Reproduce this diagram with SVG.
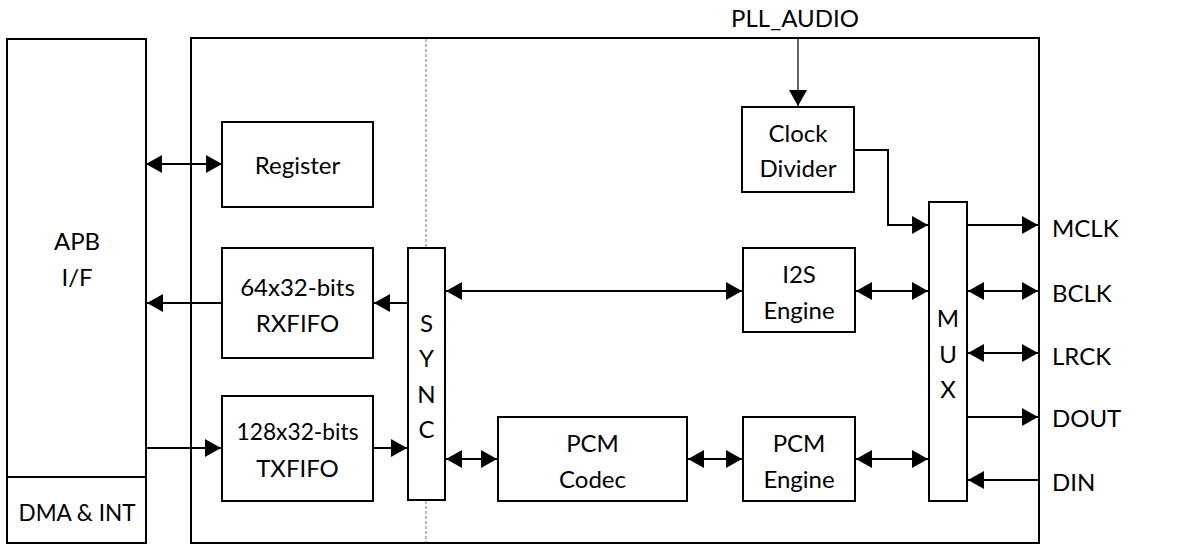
<svg xmlns="http://www.w3.org/2000/svg" width="1182" height="544" viewBox="0 0 1182 544">
<style>
.box{fill:#fff;stroke:#000;stroke-width:2}
.t{font-family:Lato,"Liberation Sans",Arial,sans-serif;font-size:24px;fill:#000;text-anchor:middle}
.ts{font-family:Lato,"Liberation Sans",Arial,sans-serif;font-size:24px;fill:#000}
.c{fill:none;stroke:#000;stroke-width:2}
.c1{fill:none;stroke:#000;stroke-width:1.2}
.d{fill:none;stroke:#777;stroke-width:1;stroke-dasharray:3 2}
</style>
<defs>
<marker id="ah" viewBox="0 0 16 18" refX="16" refY="9" markerWidth="16" markerHeight="18" markerUnits="userSpaceOnUse" orient="auto-start-reverse">
<path d="M0,0 L16,9 L0,18 Z" fill="#000"/>
</marker>
</defs>
<rect width="1182" height="544" fill="#fff"/>
<g id="main-block"><rect class="box" x="191" y="38" width="848" height="505"/></g>
<line class="d" x1="426" y1="39" x2="426" y2="248"/>
<line class="d" x1="426" y1="501" x2="426" y2="542"/>
<g id="apb"><rect class="box" x="7" y="39" width="139" height="504"/><line class="c" x1="7" y1="477" x2="146" y2="477"/>
<text class="t" x="77" y="250">APB</text><text class="t" x="77" y="286">I/F</text>
<text class="t" x="77" y="521" textLength="117" lengthAdjust="spacingAndGlyphs">DMA &amp; INT</text></g>
<g id="register"><rect class="box" x="222" y="122" width="151" height="85"/><text class="t" x="297.5" y="174">Register</text></g>
<g id="rxfifo"><rect class="box" x="222" y="248" width="151" height="110"/><text class="t" x="297.5" y="296">64x32-bits</text><text class="t" x="297.5" y="332">RXFIFO</text></g>
<g id="txfifo"><rect class="box" x="222" y="396" width="151" height="105"/><text class="t" x="297.5" y="440" textLength="122" lengthAdjust="spacingAndGlyphs">128x32-bits</text><text class="t" x="297.5" y="477">TXFIFO</text></g>
<g id="sync"><rect class="box" x="408" y="248" width="37" height="252"/>
<text class="t" x="426.5" y="332">S</text><text class="t" x="426.5" y="367">Y</text><text class="t" x="426.5" y="403">N</text><text class="t" x="426.5" y="438">C</text></g>
<g id="pcm-codec"><rect class="box" x="498" y="417" width="189" height="84"/><text class="t" x="592.5" y="452">PCM</text><text class="t" x="592.5" y="488">Codec</text></g>
<g id="i2s-engine"><rect class="box" x="743" y="248" width="112" height="84"/><text class="t" x="799" y="283">I2S</text><text class="t" x="799" y="319">Engine</text></g>
<g id="pcm-engine"><rect class="box" x="743" y="417" width="112" height="84"/><text class="t" x="799" y="452">PCM</text><text class="t" x="799" y="488">Engine</text></g>
<g id="clock-divider"><rect class="box" x="742" y="107" width="112" height="85"/><text class="t" x="798" y="142">Clock</text><text class="t" x="798" y="177">Divider</text></g>
<g id="mux"><rect class="box" x="929" y="202" width="38" height="299"/>
<text class="t" x="948" y="327">M</text><text class="t" x="948" y="363">U</text><text class="t" x="948" y="398">X</text></g>
<g id="labels">
<text class="t" x="795" y="27">PLL_AUDIO</text>
<text class="ts" x="1052" y="237">MCLK</text>
<text class="ts" x="1052" y="302">BCLK</text>
<text class="ts" x="1052" y="365">LRCK</text>
<text class="ts" x="1052" y="427">DOUT</text>
<text class="ts" x="1052" y="491">DIN</text>
</g>
<g id="connectors">
<line class="c" x1="146" y1="164" x2="222" y2="164" marker-start="url(#ah)" marker-end="url(#ah)"/>
<line class="c" x1="222" y1="303" x2="147" y2="303" marker-end="url(#ah)"/>
<line class="c" x1="408" y1="303" x2="374" y2="303" marker-end="url(#ah)"/>
<line class="c" x1="146" y1="448" x2="221" y2="448" marker-end="url(#ah)"/>
<line class="c" x1="373" y1="448" x2="407" y2="448" marker-end="url(#ah)"/>
<line class="c" x1="446" y1="291" x2="742" y2="291" marker-start="url(#ah)" marker-end="url(#ah)"/>
<line class="c" x1="446" y1="459" x2="497" y2="459" marker-start="url(#ah)" marker-end="url(#ah)"/>
<line class="c" x1="688" y1="459" x2="742" y2="459" marker-start="url(#ah)" marker-end="url(#ah)"/>
<line class="c" x1="856" y1="459" x2="928" y2="459" marker-start="url(#ah)" marker-end="url(#ah)"/>
<line class="c" x1="856" y1="291" x2="928" y2="291" marker-start="url(#ah)" marker-end="url(#ah)"/>
<line class="c1" x1="798" y1="38" x2="798" y2="106" marker-end="url(#ah)"/>
<path class="c" d="M854,150 H888 V225 H928" marker-end="url(#ah)"/>
<line class="c" x1="967" y1="225" x2="1038" y2="225" marker-end="url(#ah)"/>
<line class="c" x1="968" y1="291" x2="1038" y2="291" marker-start="url(#ah)" marker-end="url(#ah)"/>
<line class="c" x1="968" y1="353" x2="1038" y2="353" marker-start="url(#ah)" marker-end="url(#ah)"/>
<line class="c" x1="967" y1="417" x2="1038" y2="417" marker-end="url(#ah)"/>
<line class="c" x1="1039" y1="480" x2="968" y2="480" marker-end="url(#ah)"/>
</g>
</svg>
